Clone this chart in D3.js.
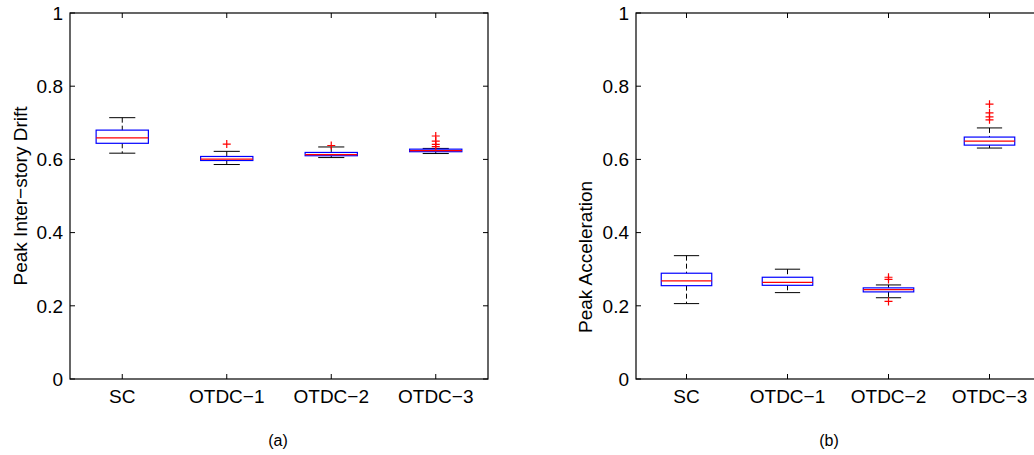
<!DOCTYPE html>
<html>
<head>
<meta charset="utf-8">
<script src="https://cdn.jsdelivr.net/npm/d3@7"></script>
<style>
  body { margin: 0; background: #fff; }
  svg { display: block; font-family: "Liberation Sans", Arial, sans-serif; }
</style>
</head>
<body>
<div id="chart"></div>
<script>
// categories shared by both panels
const categories = ["SC", "OTDC\u22121", "OTDC\u22122", "OTDC\u22123"];
const yTicks = [0, 0.2, 0.4, 0.6, 0.8, 1];

// (a) peak inter-story drift
const driftLo     = [0.617, 0.586, 0.605, 0.616];
const driftQ1     = [0.644, 0.597, 0.610, 0.621];
const driftMedian = [0.659, 0.601, 0.613, 0.624];
const driftQ3     = [0.680, 0.608, 0.619, 0.628];
const driftHi     = [0.714, 0.622, 0.634, 0.630];
const driftOut    = [[], [0.642], [0.638], [0.664, 0.650, 0.641, 0.635]];

// (b) peak acceleration
const accLo     = [0.206, 0.236, 0.222, 0.631];
const accQ1     = [0.255, 0.256, 0.238, 0.639];
const accMedian = [0.268, 0.264, 0.244, 0.650];
const accQ3     = [0.289, 0.278, 0.249, 0.661];
const accHi     = [0.337, 0.300, 0.257, 0.686];
const accOut    = [[], [], [0.278, 0.272, 0.212], [0.751, 0.727, 0.716, 0.708]];

const W = 1034, H = 455;
const svg = d3.select("#chart").append("svg").attr("width", W).attr("height", H);

const panels = [
  {left: 70, width: 418, label: "Peak Inter\u2212story Drift", title: "(a)",
   labelX: 27, labelY: 196, titleX: 278,
   lo: driftLo, q1: driftQ1, med: driftMedian, q3: driftQ3, hi: driftHi, out: driftOut},
  {left: 636, width: 404, label: "Peak Acceleration", title: "(b)",
   labelX: 592, labelY: 257, titleX: 829,
   lo: accLo, q1: accQ1, med: accMedian, q3: accQ3, hi: accHi, out: accOut}
];

const plotTop = 13, h = 366;
const tickLen = 5;
const fontSize = 19;

panels.forEach(p => {
  const g = svg.append("g").attr("transform", `translate(${p.left},${plotTop})`);
  const x = d3.scaleBand().domain(categories).range([0, p.width]);
  const y = d3.scaleLinear().domain([0, 1]).range([h, 0]);
  const bw = x.bandwidth();
  const cx = c => x(c) + bw / 2;

  // frame
  g.append("rect").attr("x", 0).attr("y", 0).attr("width", p.width).attr("height", h)
    .attr("fill", "none").attr("stroke", "#000").attr("stroke-width", 1.2);

  // y ticks (inside, both sides)
  yTicks.forEach(t => {
    g.append("line").attr("x1", 0).attr("x2", tickLen).attr("y1", y(t)).attr("y2", y(t))
      .attr("stroke", "#000");
    g.append("line").attr("x1", p.width - tickLen).attr("x2", p.width).attr("y1", y(t)).attr("y2", y(t))
      .attr("stroke", "#000");
    g.append("text").attr("x", -7).attr("y", y(t)).attr("dy", "0.36em")
      .attr("text-anchor", "end").attr("font-size", fontSize).text(d3.format("")(t));
  });

  // x ticks
  categories.forEach(c => {
    g.append("line").attr("x1", cx(c)).attr("x2", cx(c)).attr("y1", h).attr("y2", h - tickLen)
      .attr("stroke", "#000");
    g.append("line").attr("x1", cx(c)).attr("x2", cx(c)).attr("y1", 0).attr("y2", tickLen)
      .attr("stroke", "#000");
    g.append("text").attr("x", cx(c)).attr("y", h + 24)
      .attr("text-anchor", "middle").attr("font-size", fontSize).text(c);
  });

  // boxes
  const boxW = bw * 0.5, capW = bw * 0.25;
  categories.forEach((c, i) => {
    const xc = cx(c);
    // whiskers dashed
    g.append("line").attr("x1", xc).attr("x2", xc).attr("y1", y(p.hi[i])).attr("y2", y(p.q3[i]))
      .attr("stroke", "#000").attr("stroke-dasharray", "5,3");
    g.append("line").attr("x1", xc).attr("x2", xc).attr("y1", y(p.q1[i])).attr("y2", y(p.lo[i]))
      .attr("stroke", "#000").attr("stroke-dasharray", "5,3");
    // caps
    [p.hi[i], p.lo[i]].forEach(v => {
      g.append("line").attr("x1", xc - capW / 2).attr("x2", xc + capW / 2)
        .attr("y1", y(v)).attr("y2", y(v)).attr("stroke", "#000");
    });
    // box
    g.append("rect").attr("x", xc - boxW / 2).attr("width", boxW)
      .attr("y", y(p.q3[i])).attr("height", y(p.q1[i]) - y(p.q3[i]))
      .attr("fill", "none").attr("stroke", "#0000ff").attr("stroke-width", 1.2);
    // median
    g.append("line").attr("x1", xc - boxW / 2).attr("x2", xc + boxW / 2)
      .attr("y1", y(p.med[i])).attr("y2", y(p.med[i])).attr("stroke", "#ff0000").attr("stroke-width", 1.2);
    // outliers
    p.out[i].forEach(v => {
      g.append("path").attr("d", `M${xc - 4},${y(v)}H${xc + 4}M${xc},${y(v) - 4}V${y(v) + 4}`)
        .attr("stroke", "#ff0000").attr("stroke-width", 1.2).attr("fill", "none");
    });
  });

  // y label
  svg.append("text")
    .attr("transform", `translate(${p.labelX},${p.labelY}) rotate(-90)`)
    .attr("text-anchor", "middle").attr("font-size", fontSize).text(p.label);

  // panel title
  svg.append("text").attr("x", p.titleX).attr("y", 446)
    .attr("text-anchor", "middle").attr("font-size", 16).text(p.title);
});
</script>
</body>
</html>
